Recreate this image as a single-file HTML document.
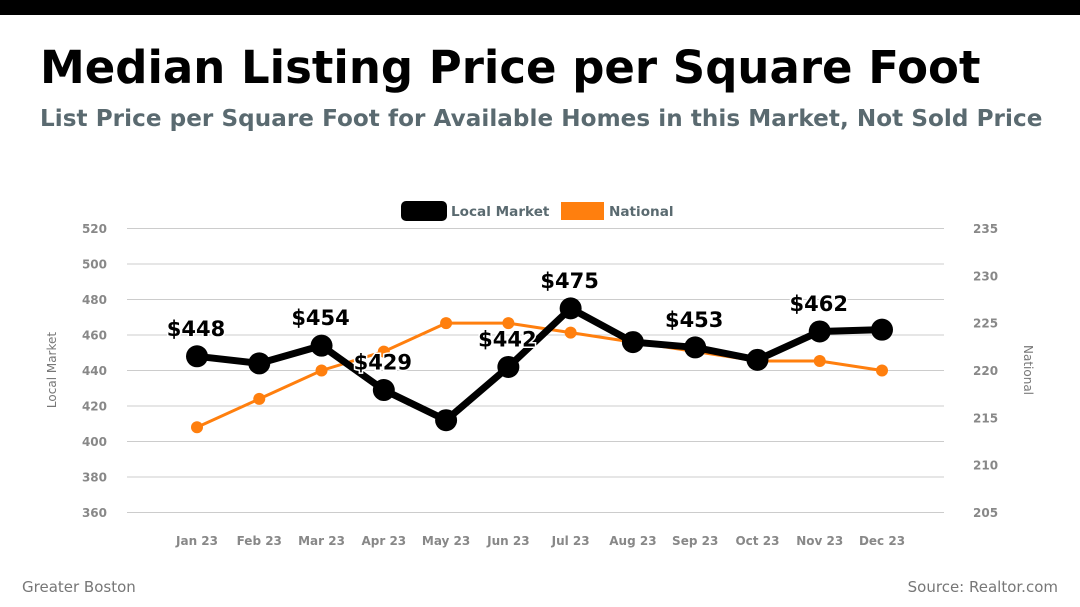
<!DOCTYPE html>
<html><head><meta charset="utf-8"><style>
body{margin:0;width:1080px;height:607px;background:#fff;font-family:"DejaVu Sans","Liberation Sans",sans-serif;overflow:hidden;position:relative}
#bar{position:absolute;left:0;top:0;width:1080px;height:15px;background:#000}
h1{position:absolute;left:40px;top:41px;margin:0;font-size:45px;font-weight:bold;color:#000}
h2{position:absolute;left:40px;top:106px;margin:0;font-size:23.1px;font-weight:bold;color:#5a6a70;letter-spacing:0.05px}
.foot{position:absolute;top:578px;font-size:15px;color:#777}
</style></head><body>
<div id="bar"></div>
<h1>Median Listing Price per Square Foot</h1>
<h2>List Price per Square Foot for Available Homes in this Market, Not Sold Price</h2>
<div class="foot" style="left:22px">Greater Boston</div>
<div class="foot" style="right:22px">Source: Realtor.com</div>
<svg id="chart" width="1080" height="607" style="position:absolute;left:0;top:0"></svg>
<script>
const months=["Jan 23","Feb 23","Mar 23","Apr 23","May 23","Jun 23","Jul 23","Aug 23","Sep 23","Oct 23","Nov 23","Dec 23"];
const localVals=[448,444,454,429,412,442,475,456,453,446,462,463];
const nationalVals=[214,217,220,222,225,225,224,223,222,221,221,220];
const leftTicks=[360,380,400,420,440,460,480,500,520];
const rightTicks=[205,210,215,220,225,230,235];
const labeledIdx=[0,2,3,5,6,8,10];
const svg=document.getElementById('chart');
const NS='http://www.w3.org/2000/svg';
const top_=228,bot=512,x0=197,x1=882;
const yL=v=>bot-(v-360)/(520-360)*(bot-top_);
const yR=v=>bot-(v-205)/(235-205)*(bot-top_);
const xS=i=>x0+i*(x1-x0)/(months.length-1);
function mk(t,a,txt){const e=document.createElementNS(NS,t);for(const k in a)e.setAttribute(k,a[k]);if(txt!==undefined)e.textContent=txt;svg.appendChild(e);return e;}
leftTicks.forEach(v=>{
 const g=mk('line',{x1:127,x2:944,y1:yL(v)+0.5,y2:yL(v)+0.5,stroke:'#ccc','stroke-width':1});
 
 
 const t=mk('text',{x:107,y:yL(v)+5,'text-anchor':'end','font-size':12,'font-weight':'bold',fill:'#888'},v);
 
 
});
rightTicks.forEach(v=>{
 const t=mk('text',{x:973,y:yR(v)+5,'font-size':12,'font-weight':'bold',fill:'#888'},v);
 
 
});
months.forEach((m,i)=>{
 const t=mk('text',{x:xS(i),y:545,'text-anchor':'middle','font-size':12,'font-weight':'bold',fill:'#888'},m);
 
 
});
let a=mk('text',{x:0,y:0,transform:'translate(56,370) rotate(-90)','text-anchor':'middle','font-size':12,fill:'#777'},'Local Market');


a=mk('text',{x:0,y:0,transform:'translate(1024,370) rotate(90)','text-anchor':'middle','font-size':12,fill:'#777'},'National');


let p=mk('polyline',{points:nationalVals.map((v,i)=>xS(i)+','+(yR(v)+0.5)).join(' '),fill:'none',stroke:'#ff7f0e','stroke-width':3});


nationalVals.forEach((v,i)=>{
 const c=mk('circle',{cx:xS(i),cy:yR(v)+0.5,r:6,fill:'#ff7f0e'});
 
 
});
p=mk('polyline',{points:localVals.map((v,i)=>xS(i)+','+(yL(v)+0.5)).join(' '),fill:'none',stroke:'#000','stroke-width':7,'stroke-linejoin':'round'});


localVals.forEach((v,i)=>{
 const c=mk('circle',{cx:xS(i),cy:yL(v)+0.5,r:11,fill:'#000'});
 
 
});
labeledIdx.forEach(i=>{
 const t=mk('text',{x:xS(i)-1,y:yL(localVals[i])-20,'text-anchor':'middle','font-size':21,'font-weight':'bold',fill:'#000',stroke:'#fff','stroke-width':3,'paint-order':'stroke'},'$'+localVals[i]);
 
 
});
let r=mk('rect',{x:401,y:201,width:46,height:20,rx:5,fill:'#000'});


let t=mk('text',{x:451,y:216,'font-size':13.6,'font-weight':'bold',fill:'#5a6a70'},'Local Market');


r=mk('rect',{x:561,y:202,width:43,height:18,fill:'#ff7f0e'});


t=mk('text',{x:609,y:216,'font-size':13.6,'font-weight':'bold',fill:'#5a6a70'},'National');


</script>
</body></html>
